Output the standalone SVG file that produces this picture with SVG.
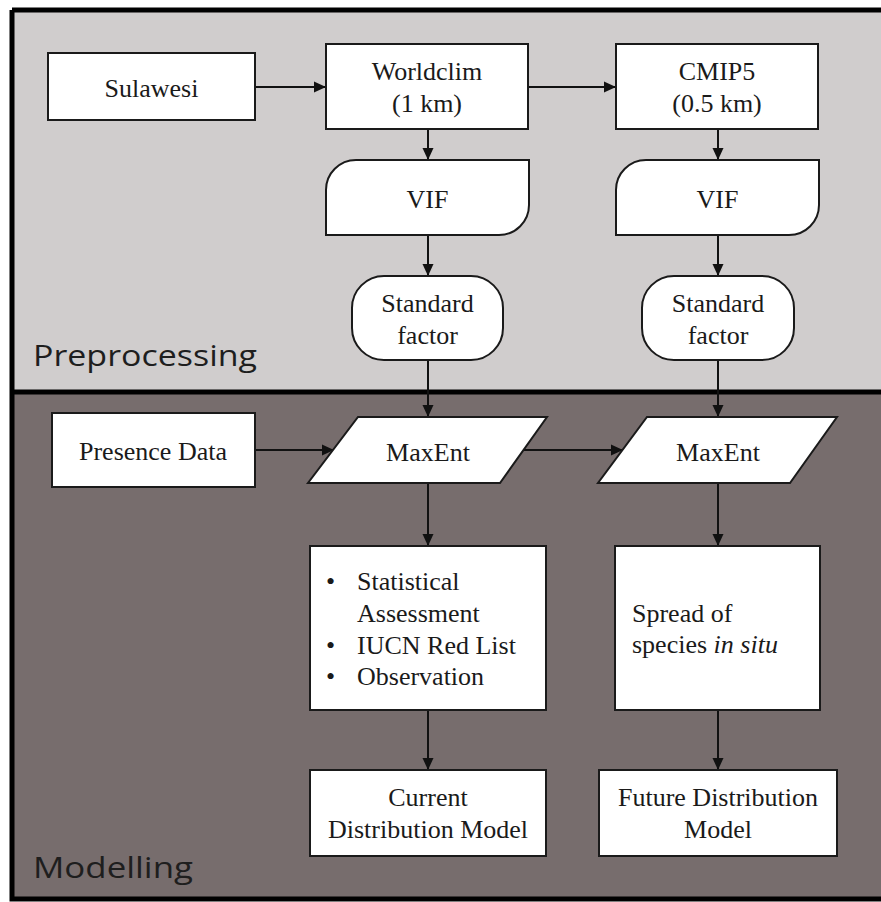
<svg xmlns="http://www.w3.org/2000/svg" width="881" height="902" viewBox="0 0 881 902">
<defs>
<style>
.node{fill:#fff;stroke:#1a1a1a;stroke-width:2}
.t{font-family:"Liberation Serif","Times New Roman",serif;font-size:26px;fill:#1a1a1a;text-anchor:middle}
.tl{font-family:"Liberation Serif","Times New Roman",serif;font-size:26px;fill:#1a1a1a}
.lbl{font-family:"Open Sans","Noto Sans",sans-serif;font-size:29px;fill:#1e1e1e}
.con{fill:none;stroke:#111;stroke-width:2;marker-end:url(#ah)}
</style>
<marker id="ah" markerUnits="userSpaceOnUse" markerWidth="12" markerHeight="12" refX="12" refY="6" orient="auto">
<path d="M0,0.5 L12,6 L0,11.5 Z" fill="#111"/>
</marker>
</defs>
<rect x="0" y="0" width="881" height="902" fill="#ffffff"/>
<rect x="12" y="10" width="869" height="382" fill="#d0cdcd"/>
<rect x="12" y="392" width="869" height="507" fill="#776d6d"/>
<path d="M12,10 H881 M12,10 V899 H881 M12,392 H881" fill="none" stroke="#000" stroke-width="5"/>
<text class="lbl" x="33" y="366" textLength="224" lengthAdjust="spacingAndGlyphs">Preprocessing</text>
<text class="lbl" x="33" y="878" textLength="160" lengthAdjust="spacingAndGlyphs">Modelling</text>

<g id="connectors">
<path class="con" d="M255,87 H326"/>
<path class="con" d="M528,87 H616"/>
<path class="con" d="M428,129 V160"/>
<path class="con" d="M718,129 V160"/>
<path class="con" d="M428,235 V276"/>
<path class="con" d="M718,235 V276"/>
<path class="con" d="M428,360 V417"/>
<path class="con" d="M718,360 V417"/>
<path class="con" d="M255,450 H334"/>
<path class="con" d="M523,450 H623"/>
<path class="con" d="M428,483 V546"/>
<path class="con" d="M718,483 V546"/>
<path class="con" d="M428,710 V770"/>
<path class="con" d="M718,710 V770"/>
</g>

<g id="sulawesi">
<rect class="node" x="48" y="53" width="207" height="67"/>
<text class="t" x="151.5" y="97">Sulawesi</text>
</g>
<g id="worldclim">
<rect class="node" x="326" y="44" width="202" height="85"/>
<text class="t" x="427" y="80">Worldclim</text>
<text class="t" x="427" y="112">(1 km)</text>
</g>
<g id="cmip5">
<rect class="node" x="616" y="44" width="202" height="85"/>
<text class="t" x="717" y="80">CMIP5</text>
<text class="t" x="717" y="112">(0.5 km)</text>
</g>
<g id="vif-left">
<path class="node" d="M356,160 H529 V205 A30,30 0 0 1 499,235 H326 V190 A30,30 0 0 1 356,160 Z"/>
<text class="t" x="427.5" y="208">VIF</text>
</g>
<g id="vif-right">
<path class="node" d="M646,160 H819 V205 A30,30 0 0 1 789,235 H616 V190 A30,30 0 0 1 646,160 Z"/>
<text class="t" x="717.5" y="208">VIF</text>
</g>
<g id="standard-left">
<rect class="node" x="352" y="276" width="151" height="84" rx="32" ry="32"/>
<text class="t" x="427.5" y="312">Standard</text>
<text class="t" x="427.5" y="344">factor</text>
</g>
<g id="standard-right">
<rect class="node" x="642" y="276" width="152" height="84" rx="32" ry="32"/>
<text class="t" x="718" y="312">Standard</text>
<text class="t" x="718" y="344">factor</text>
</g>
<g id="presence">
<rect class="node" x="52" y="413" width="203" height="74"/>
<text class="t" x="153" y="460">Presence Data</text>
</g>
<g id="maxent-left">
<path class="node" d="M358,417 H547 L500,483 H308 Z"/>
<text class="t" x="428" y="461">MaxEnt</text>
</g>
<g id="maxent-right">
<path class="node" d="M647,417 H837 L790,483 H598 Z"/>
<text class="t" x="718" y="461">MaxEnt</text>
</g>
<g id="assessment">
<rect class="node" x="310" y="546" width="236" height="164"/>
<text class="tl" x="326" y="590">•</text>
<text class="tl" x="357" y="590">Statistical</text>
<text class="tl" x="357" y="622">Assessment</text>
<text class="tl" x="326" y="654">•</text>
<text class="tl" x="357" y="654">IUCN Red List</text>
<text class="tl" x="326" y="685">•</text>
<text class="tl" x="357" y="685">Observation</text>
</g>
<g id="spread">
<rect class="node" x="615" y="546" width="205" height="164"/>
<text class="tl" x="632" y="622">Spread of</text>
<text class="tl" x="632" y="653">species <tspan font-style="italic">in situ</tspan></text>
</g>
<g id="current">
<rect class="node" x="310" y="770" width="236" height="86"/>
<text class="t" x="428" y="806">Current</text>
<text class="t" x="428" y="838">Distribution Model</text>
</g>
<g id="future">
<rect class="node" x="599" y="770" width="238" height="86"/>
<text class="t" x="718" y="806">Future Distribution</text>
<text class="t" x="718" y="838">Model</text>
</g>
</svg>
